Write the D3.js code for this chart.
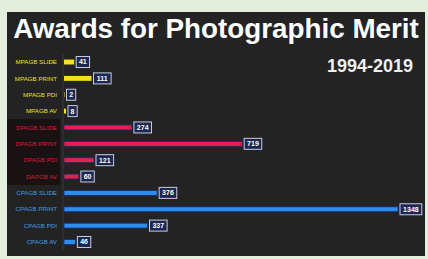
<!DOCTYPE html>
<html>
<head>
<meta charset="utf-8">
<script src="https://cdn.jsdelivr.net/npm/d3@7"></script>
<style>
  body { margin: 0; background: #e3eedc; }
  svg { display: block; }
</style>
</head>
<body>
<svg id="chart" width="428" height="259"></svg>
<script>
// data
let categories = [
  "MPAGB SLIDE", "MPAGB PRINT", "MPAGB PDI", "MPAGB AV",
  "DPAGB SLIDE", "DPAGB PRINT", "DPAGB PDI", "DAPGB AV",
  "CPAGB SLIDE", "CPAGB PRINT", "CPAGB PDI", "CPAGB AV"
];
let awards = [41, 111, 2, 8, 274, 719, 121, 60, 376, 1348, 337, 46];
let groups = ["M", "M", "M", "M", "D", "D", "D", "D", "C", "C", "C", "C"];

let barColor = { M: "#f2e21e", D: "#e3214f", C: "#2d8cf0" };
let textColor = { M: "#ece020", D: "#d42038", C: "#3f9de8" };

let svg = d3.select("#chart");

// dark panel
svg.append("rect")
  .attr("x", 7).attr("y", 12)
  .attr("width", 418).attr("height", 244)
  .attr("fill", "#232323");

// reddish shade behind DPAGB labels
svg.append("rect")
  .attr("x", 7).attr("y", 119)
  .attr("width", 53).attr("height", 66)
  .attr("fill", "#1a1113");

svg.append("text")
  .attr("x", 216).attr("y", 38)
  .attr("text-anchor", "middle")
  .attr("font-family", "Liberation Sans, Arial, sans-serif")
  .attr("font-weight", "bold")
  .attr("font-size", 27.8)
  .attr("fill", "#ffffff")
  .text("Awards for Photographic Merit");

svg.append("text")
  .attr("x", 413).attr("y", 72)
  .attr("text-anchor", "end")
  .attr("font-family", "Liberation Sans, Arial, sans-serif")
  .attr("font-weight", "bold")
  .attr("font-size", 18)
  .attr("fill", "#f0f0f0")
  .text("1994-2019");

let x = d3.scaleLinear().domain([0, 1348]).range([64, 398]);
let y = d3.scaleBand().domain(categories).range([56.3, 247.7]).paddingInner(0.7).paddingOuter(0.2);

// axis line
svg.append("line")
  .attr("x1", 63).attr("x2", 63)
  .attr("y1", 54).attr("y2", 250)
  .attr("stroke", "#3a3a3a").attr("stroke-width", 1);

// category labels
svg.append("g").selectAll("text")
  .data(categories)
  .join("text")
  .attr("x", 57)
  .attr("y", d => y(d) + y.bandwidth() / 2)
  .attr("dy", "0.35em")
  .attr("text-anchor", "end")
  .attr("font-family", "Liberation Sans Narrow, Liberation Sans, sans-serif")
  .attr("font-size", 6.2)
  .attr("fill", (d, i) => textColor[groups[i]])
  .text(d => d);

// bars
svg.append("g").selectAll("rect")
  .data(awards)
  .join("rect")
  .attr("x", x(0))
  .attr("y", (d, i) => y(categories[i]))
  .attr("width", d => x(d) - x(0))
  .attr("height", y.bandwidth())
  .attr("fill", (d, i) => barColor[groups[i]])
  .attr("stroke", (d, i) => groups[i] == "M" ? "none" : "#1a2a6a")
  .attr("stroke-width", 0.8);

// value boxes
let labels = svg.append("g").selectAll("g")
  .data(awards)
  .join("g")
  .attr("transform", (d, i) => `translate(${x(d) + 2}, ${y(categories[i]) + y.bandwidth() / 2})`);

labels.append("rect")
  .attr("x", 0).attr("y", -5.5)
  .attr("width", d => String(d).length * 4.2 + 5)
  .attr("height", 11)
  .attr("fill", "#1e2752")
  .attr("stroke", "#c8cde0")
  .attr("stroke-width", 1);

labels.append("text")
  .attr("x", d => (String(d).length * 4.2 + 5) / 2)
  .attr("y", 0)
  .attr("dy", "0.35em")
  .attr("text-anchor", "middle")
  .attr("font-family", "Liberation Sans Narrow, Liberation Sans, sans-serif")
  .attr("font-weight", "bold")
  .attr("font-size", 7)
  .attr("fill", "#ffffff")
  .text(d => d);
</script>
</body>
</html>
